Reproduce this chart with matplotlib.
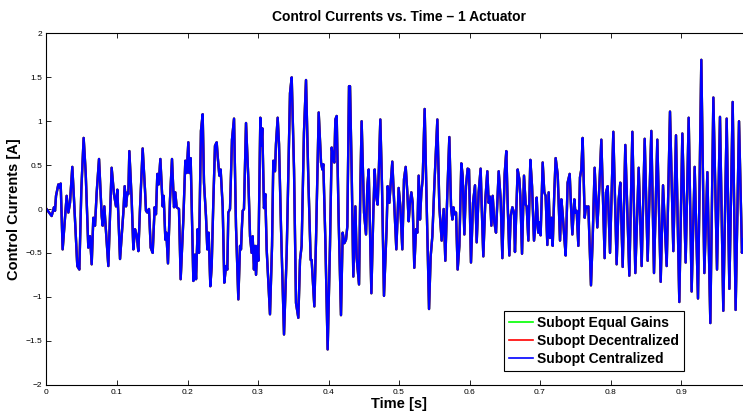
import matplotlib
matplotlib.use('Agg')
import matplotlib.pyplot as plt
from matplotlib import rc

rc('font', family=['Liberation Sans', 'DejaVu Sans'], size=6)

# Data (time [s], current [A])
t_s = [
    0.0000, 0.0073, 0.0106, 0.0121, 0.0135, 0.0168, 0.0191, 0.0201, 0.0229, 0.0286,
    0.0310, 0.0333, 0.0366, 0.0390, 0.0437, 0.0466, 0.0494, 0.0527, 0.0556, 0.0593,
    0.0617, 0.0641, 0.0664, 0.0688, 0.0712, 0.0745, 0.0783, 0.0797, 0.0820, 0.0877,
    0.0924, 0.0957, 0.0986, 0.1005, 0.1043, 0.1090, 0.1109, 0.1128, 0.1147, 0.1161,
    0.1175, 0.1208,
    0.1232, 0.1255, 0.1279, 0.1303, 0.1326, 0.1364, 0.1397, 0.1411, 0.1430, 0.1454,
    0.1478, 0.1506, 0.1534, 0.1553, 0.1572, 0.1591, 0.1615, 0.1648, 0.1662, 0.1686,
    0.1700, 0.1723, 0.1752, 0.1780, 0.1809, 0.1827, 0.1846, 0.1879, 0.1903, 0.1941,
    0.1969, 0.1988, 0.2012, 0.2026, 0.2045, 0.2083, 0.2106, 0.2121, 0.2144, 0.2163,
    0.2191, 0.2215, 0.2234, 0.2262, 0.2281, 0.2300, 0.2324, 0.2343, 0.2366, 0.2390,
    0.2414, 0.2428, 0.2452, 0.2470,
    0.2499, 0.2522, 0.2546, 0.2565, 0.2579, 0.2603, 0.2631, 0.2660, 0.2688, 0.2721,
    0.2745, 0.2759, 0.2768, 0.2783, 0.2801, 0.2830, 0.2863, 0.2887, 0.2910, 0.2924,
    0.2943, 0.2957, 0.2972, 0.2991, 0.3005, 0.3033, 0.3047, 0.3061, 0.3085, 0.3104,
    0.3123, 0.3170, 0.3199, 0.3217, 0.3241, 0.3255, 0.3279, 0.3298, 0.3326, 0.3369,
    0.3407, 0.3454, 0.3478, 0.3511, 0.3539, 0.3572, 0.3596, 0.3619, 0.3652, 0.3681,
    0.3714, 0.3747,
    0.3761, 0.3799, 0.3823, 0.3861, 0.3894, 0.3913, 0.3927, 0.3955, 0.3988, 0.4021,
    0.4045, 0.4069, 0.4083, 0.4097, 0.4116, 0.4144, 0.4177, 0.4201, 0.4225, 0.4248,
    0.4267, 0.4291, 0.4305, 0.4329, 0.4352, 0.4381, 0.4400, 0.4433, 0.4452, 0.4470,
    0.4504, 0.4532, 0.4551, 0.4570, 0.4589, 0.4608, 0.4636, 0.4655, 0.4674, 0.4697,
    0.4716, 0.4735, 0.4759, 0.4787, 0.4825, 0.4839, 0.4863, 0.4887, 0.4905, 0.4929,
    0.4962, 0.4995, 0.5019, 0.5047,
    0.5071, 0.5095, 0.5118, 0.5137, 0.5156, 0.5175, 0.5194, 0.5217, 0.5241, 0.5260,
    0.5279, 0.5298, 0.5317, 0.5336, 0.5364, 0.5392, 0.5426, 0.5449, 0.5473, 0.5501,
    0.5544, 0.5572, 0.5605, 0.5634, 0.5657, 0.5686, 0.5714, 0.5738, 0.5757, 0.5771,
    0.5790, 0.5809, 0.5832, 0.5856, 0.5884, 0.5903, 0.5927, 0.5950, 0.5974, 0.5993,
    0.6021, 0.6050, 0.6078, 0.6102, 0.6130, 0.6158, 0.6173, 0.6196, 0.6225, 0.6253,
    0.6272, 0.6291,
    0.6310, 0.6329, 0.6352, 0.6376, 0.6414, 0.6442, 0.6466, 0.6499, 0.6522, 0.6541,
    0.6565, 0.6584, 0.6608, 0.6631, 0.6645, 0.6683, 0.6707, 0.6721, 0.6745, 0.6773,
    0.6797, 0.6811, 0.6835, 0.6863, 0.6887, 0.6915, 0.6939, 0.6953, 0.6976, 0.6991,
    0.7009, 0.7038, 0.7061, 0.7080, 0.7104, 0.7123, 0.7142, 0.7161, 0.7180, 0.7203,
    0.7222, 0.7251, 0.7284, 0.7303, 0.7322, 0.7340, 0.7364, 0.7392, 0.7421, 0.7440,
    0.7459, 0.7487, 0.7501, 0.7520, 0.7544, 0.7567, 0.7586, 0.7605,
    0.7634, 0.7652, 0.7671, 0.7686, 0.7723, 0.7747, 0.7775, 0.7813, 0.7842, 0.7870,
    0.7917, 0.7936, 0.7960, 0.7993, 0.8040, 0.8087, 0.8116, 0.8139, 0.8173, 0.8210,
    0.8267, 0.8310, 0.8352, 0.8400, 0.8442, 0.8485, 0.8527, 0.8579, 0.8617, 0.8664,
    0.8712,
    0.8745, 0.8797, 0.8844, 0.8891, 0.8929, 0.8976, 0.9019, 0.9066, 0.9109, 0.9151,
    0.9194, 0.9241, 0.9288, 0.9331, 0.9374, 0.9416, 0.9459, 0.9511, 0.9553, 0.9600,
    0.9648, 0.9686, 0.9733, 0.9775, 0.9823, 0.9865, 0.9880,
]

i_centralized = [
    0.00, -0.08, 0.02, -0.02, 0.15, 0.28, 0.24, 0.29, -0.46, 0.15,
    -0.04, 0.07, 0.48, 0.11, -0.65, -0.69, 0.22, 0.81, 0.41, -0.44,
    -0.31, -0.63, -0.10, -0.19, 0.19, 0.57, -0.08, -0.19, 0.03, -0.65,
    0.47, 0.17, 0.03, 0.22, -0.57, -0.04, 0.26, 0.03, 0.19, 0.17,
    0.66, 0.11,
    -0.46, -0.23, -0.30, -0.48, 0.00, 0.69, 0.22, -0.02, -0.04, 0.00,
    -0.44, -0.50, 0.02, -0.06, 0.40, 0.28, 0.57, 0.03, 0.15, -0.35,
    -0.27, -0.62, 0.11, 0.57, 0.02, 0.19, 0.02, 0.00, -0.80, -0.12,
    0.55, 0.41, 0.76, 0.41, 0.58, -0.82, -0.52, -0.80, -0.23, -0.50,
    0.89, 1.08, 0.30, -0.08, -0.46, -0.27, -0.88, -0.65, 0.07, 0.72,
    0.76, 0.60, 0.38, 0.45,
    0.03, -0.84, -0.65, -0.69, -0.04, 0.00, 0.79, 1.03, -0.20, -1.03,
    -0.42, -0.46, -0.27, -0.02, 0.00, 0.98, 0.34, -0.31, -0.50, -0.31,
    -0.69, -0.42, -0.75, -0.42, -0.59, 1.04, 0.72, 0.92, 0.01, 0.17,
    -0.46, -1.20, -0.42, 0.55, 0.43, 0.74, 1.04, 0.74, -0.20, -1.43,
    -0.50, 1.32, 1.50, 0.45, -1.07, -1.24, -0.58, -0.42, 0.87, 1.47,
    0.34, -0.58,
    -0.58, -1.11, -0.35, 1.10, 0.53, 0.45, 0.51, -0.35, -1.60, -0.42,
    0.70, 0.56, 0.53, 1.02, 1.06, -0.12, -1.21, -0.27, -0.39, -0.35,
    -0.20, 1.40, 1.40, 0.41, -0.77, 0.03, -0.56, -0.86, 0.26, 1.00,
    -0.04, -0.29, 0.26, 0.45, -0.27, -0.96, -0.04, 0.45, 0.15, 0.05,
    0.49, 1.02, 0.26, -0.99, -0.20, 0.26, 0.07, 0.34, 0.54, 0.11,
    -0.46, 0.24, 0.03, -0.46,
    0.34, 0.48, 0.19, -0.14, 0.07, 0.19, 0.07, -0.67, -0.23, -0.27,
    0.38, -0.12, 0.19, 0.34, 1.14, 0.07, -1.14, -0.54, -0.31, 0.26,
    1.02, 0.03, -0.36, 0.00, -0.59, 0.19, 0.82, 0.03, -0.12, 0.02,
    -0.06, -0.04, -0.69, -0.42, 0.52, 0.38, -0.29, 0.26, 0.46, 0.45,
    -0.61, 0.07, 0.27, -0.38, 0.19, 0.46, 0.03, -0.54, 0.11, 0.43,
    0.07, 0.14,
    -0.19, 0.15, -0.15, -0.27, 0.43, 0.11, -0.56, 0.40, 0.66, 0.07,
    -0.53, -0.08, 0.02, -0.04, -0.49, 0.45, 0.34, 0.15, -0.51, 0.38,
    0.05, 0.03, -0.36, 0.56, 0.26, -0.36, -0.15, 0.13, -0.27, -0.15,
    -0.30, 0.53, 0.19, 0.15, -0.41, 0.19, -0.33, -0.10, -0.42, 0.19,
    0.58, 0.39, -0.36, 0.11, -0.06, -0.27, -0.53, 0.30, 0.40, 0.03,
    -0.29, 0.11, -0.04, -0.02, -0.42, 0.36, 0.45, 0.81,
    -0.10, 0.03, 0.02, 0.03, -0.87, -0.34, 0.47, -0.21, 0.26, 0.79,
    -0.56, 0.19, 0.26, -0.50, 0.88, -0.63, 0.11, 0.30, -0.66, 0.73,
    -0.76, 0.88, -0.73, 0.47, -0.65, 0.80, -0.59, 0.89, -0.73, 0.79,
    -0.83,
    0.27, -0.65, 1.11, -0.48, 0.84, -1.06, 0.86, -0.61, 1.04, -0.94,
    0.48, -1.02, 1.70, -0.73, 0.42, -1.30, 1.27, -0.69, 1.05, -1.16,
    1.03, -0.91, 1.22, -1.15, 1.00, -0.50, -0.35,
]

# The three controllers give practically the same currents at this scale
i_decentralized = i_centralized
i_equal_gains = i_centralized

labels = ['Subopt Equal Gains', 'Subopt Decentralized', 'Subopt Centralized']
colors = ['#00ff00', '#ff0000', '#0000ff']

fig = plt.figure(figsize=(7.43, 4.19), dpi=100)
# axes run to t = 1, slightly past the right edge of the picture
ax = fig.add_axes([46.5/743, 34.5/419, 705/743, 351/419])

ax.plot(t_s, i_equal_gains, color=colors[0], lw=1.7, label=labels[0])
ax.plot(t_s, i_decentralized, color=colors[1], lw=1.7, label=labels[1])
ax.plot(t_s, i_centralized, color=colors[2], lw=1.7, label=labels[2])

ax.set_xlim(0, 1)
ax.set_ylim(-2, 2)
ax.set_xticks([0, 0.1, 0.2, 0.3, 0.4, 0.5, 0.6, 0.7, 0.8, 0.9])
ax.set_xticklabels(['0', '0.1', '0.2', '0.3', '0.4', '0.5', '0.6', '0.7', '0.8', '0.9'])
ax.set_yticks([-2, -1.5, -1, -0.5, 0, 0.5, 1, 1.5, 2])
ax.set_yticklabels(['\u22122', '\u22121.5', '\u22121', '\u22120.5', '0', '0.5', '1', '1.5', '2'])
ax.tick_params(direction='in', length=3.5, width=0.6, top=True, right=True,
               labelsize=6, pad=3)
for s in ax.spines.values():
    s.set_linewidth(0.8)

ax.set_title('Control Currents vs. Time \u2013 1 Actuator', fontsize=10, fontweight='bold', pad=9)
ax.set_xlabel('Time [s]', fontsize=10.5, fontweight='bold', labelpad=1)
ax.set_ylabel('Control Currents [A]', fontsize=10.5, fontweight='bold', labelpad=3)

leg = ax.legend(loc='upper left', bbox_to_anchor=(504/743, 1 - 311/419),
                bbox_transform=fig.transFigure, fancybox=False, framealpha=1,
                edgecolor='black', prop={'weight': 'bold', 'size': 10},
                handlelength=1.75, handletextpad=0.3, labelspacing=0.3,
                borderpad=0.35, borderaxespad=0)
leg.get_frame().set_linewidth(0.8)
for line in leg.get_lines():
    line.set_linewidth(1.2)

fig.savefig('out.png', dpi=100)
